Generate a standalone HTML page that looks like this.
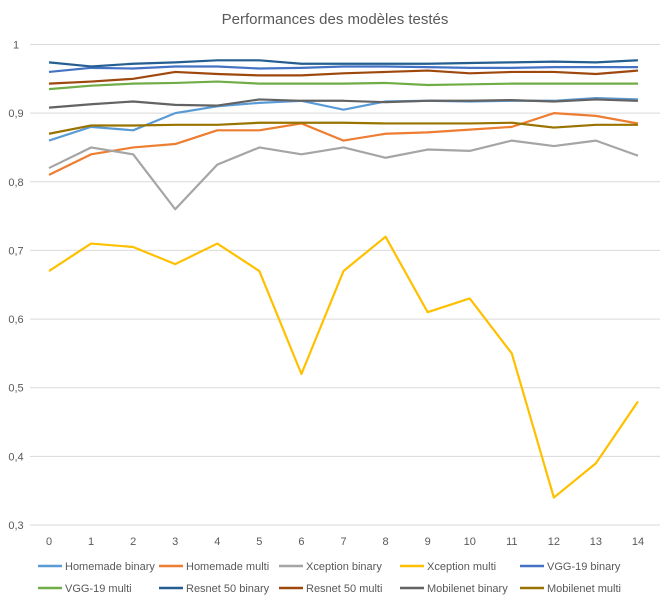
<!DOCTYPE html>
<html><head><meta charset="utf-8"><style>
body{margin:0;background:#fff;font-family:"Liberation Sans",sans-serif}
</style></head><body>
<svg id="c" width="670" height="605" xmlns="http://www.w3.org/2000/svg">
<rect width="670" height="605" fill="#fff"/>
<text x="335" y="24" text-anchor="middle" font-size="15" fill="#595959">Performances des modèles testés</text>
</svg>
<script>
const categories=[0,1,2,3,4,5,6,7,8,9,10,11,12,13,14];
const yTicks=[0.3,0.4,0.5,0.6,0.7,0.8,0.9,1];
const yTickLabels=["0,3","0,4","0,5","0,6","0,7","0,8","0,9","1"];
const seriesNames=["Homemade binary","Homemade multi","Xception binary","Xception multi","VGG-19 binary","VGG-19 multi","Resnet 50 binary","Resnet 50 multi","Mobilenet binary","Mobilenet multi"];
const homemadeBinary=[0.86,0.88,0.875,0.9,0.91,0.915,0.918,0.905,0.917,0.918,0.917,0.918,0.918,0.922,0.92];
const homemadeMulti=[0.81,0.84,0.85,0.855,0.875,0.875,0.885,0.86,0.87,0.872,0.876,0.88,0.9,0.896,0.885];
const xceptionBinary=[0.82,0.85,0.84,0.76,0.825,0.85,0.84,0.85,0.835,0.847,0.845,0.86,0.852,0.86,0.838];
const xceptionMulti=[0.67,0.71,0.705,0.68,0.71,0.67,0.52,0.67,0.72,0.61,0.63,0.55,0.34,0.39,0.48];
const vggBinary=[0.96,0.966,0.965,0.968,0.968,0.965,0.966,0.968,0.968,0.967,0.966,0.966,0.967,0.967,0.967];
const vggMulti=[0.935,0.94,0.943,0.944,0.946,0.943,0.943,0.943,0.944,0.941,0.942,0.943,0.943,0.943,0.943];
const resnetBinary=[0.974,0.968,0.972,0.974,0.977,0.977,0.972,0.972,0.972,0.972,0.973,0.974,0.975,0.974,0.977];
const resnetMulti=[0.943,0.946,0.95,0.96,0.957,0.955,0.955,0.958,0.96,0.962,0.958,0.96,0.96,0.957,0.962];
const mobilenetBinary=[0.908,0.913,0.917,0.912,0.911,0.92,0.918,0.918,0.916,0.918,0.918,0.919,0.917,0.92,0.918];
const mobilenetMulti=[0.87,0.882,0.882,0.883,0.883,0.886,0.886,0.886,0.885,0.885,0.885,0.886,0.879,0.883,0.883];
const allSeries=[homemadeBinary,homemadeMulti,xceptionBinary,xceptionMulti,vggBinary,vggMulti,resnetBinary,resnetMulti,mobilenetBinary,mobilenetMulti];
const colors=["#5B9BD5","#ED7D31","#A5A5A5","#FFC000","#4472C4","#70AD47","#255E91","#9E480E","#636363","#997300"];
const NS="http://www.w3.org/2000/svg";
const svg=document.getElementById('c');
const X0=49,X1=638,Y0=525,Y1=44.5,VMIN=0.3,VMAX=1;
function xs(i){return X0+(X1-X0)*i/(categories.length-1);}
function ys(v){return Y0-(v-VMIN)/(VMAX-VMIN)*(Y0-Y1);}
function mk(t,a){const e=document.createElementNS(NS,t);for(const k in a)e.setAttribute(k,a[k]);svg.appendChild(e);return e;}
yTicks.forEach((v,i)=>{
 const l=mk('line',{x1:30,x2:660,y1:ys(v),y2:ys(v),stroke:'#d9d9d9','stroke-width':1});
 
 
 const t=mk('text',{x:16,y:ys(v)+4,'text-anchor':'middle','font-size':11,fill:'#595959'});
 t.textContent=yTickLabels[i];
 
 
});
categories.forEach((c,i)=>{
 const t=mk('text',{x:xs(i),y:545,'text-anchor':'middle','font-size':11,fill:'#595959'});
 t.textContent=c;
 
 
});
allSeries.forEach((s,k)=>{
 const p=mk('polyline',{points:s.map((v,i)=>xs(i)+','+ys(v)).join(' '),fill:'none',stroke:colors[k],'stroke-width':2.2,'stroke-linejoin':'round'});
 
 
});
const legX=[38,159,279,400,520];
seriesNames.forEach((n,k)=>{
 const r=Math.floor(k/5),c=k%5;
 const x=legX[c],y=566+r*22;
 const g=document.createElementNS(NS,'g');svg.appendChild(g);
 
 
 const l=document.createElementNS(NS,'line');
 l.setAttribute('x1',x);l.setAttribute('x2',x+24);l.setAttribute('y1',y);l.setAttribute('y2',y);
 l.setAttribute('stroke',colors[k]);l.setAttribute('stroke-width',2.5);g.appendChild(l);
 const t=document.createElementNS(NS,'text');
 t.setAttribute('x',x+27);t.setAttribute('y',y+4);t.setAttribute('font-size',11);t.setAttribute('fill','#595959');
 t.textContent=n;g.appendChild(t);
});
</script>
</body></html>
